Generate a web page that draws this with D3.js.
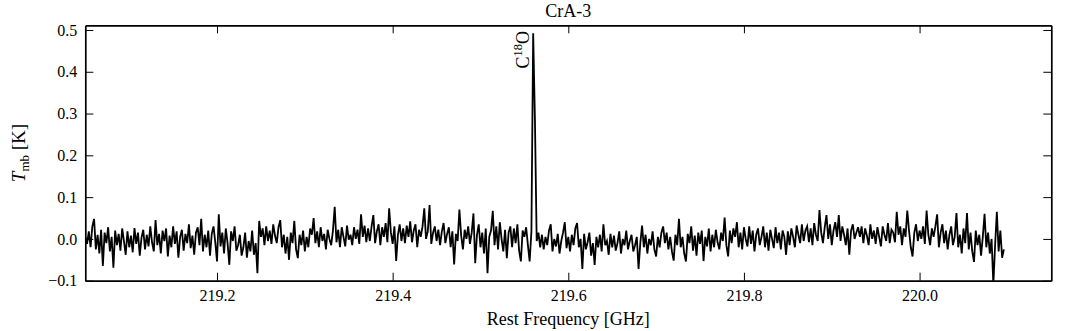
<!DOCTYPE html>
<html>
<head>
<meta charset="utf-8">
<script src="https://cdnjs.cloudflare.com/ajax/libs/d3/7.8.5/d3.min.js"></script>
<style>
  html, body { margin: 0; padding: 0; background: #fff; }
  svg { display: block; }
  text { font-family: "Liberation Serif", "DejaVu Serif", serif; fill: #000; }
</style>
</head>
<body>
<svg id="chart" width="1072" height="331"></svg>
<script>
// spectrum channel grid (GHz)
const freqStart = 219.05;
const chanWidth = 0.002;

// main beam temperature per channel, in mK
const tmbMilliK = [
  5, -12, 18, -20, 30, 48, -25, 10, -35, 22,
  -65, 15, -10, 28, -30, 5, -69, 20, -15, 12,
  -28, 25, -5, -38, 18, -20, 8, -32, 26, -12,
  15, -40, 3, 22, -25, 10, -18, 30, -8, -30,
  45, -15, 12, -35, 20, -5, 25, -42, 8, -20,
  30, -12, 18, -45, 5, 22, -28, 12, -10, 35,
  -22, 8, -38, 15, 28, -15, 48, -30, 10, -20,
  20, -40, 12, 30, -8, -54, 59, -18, 15, -35,
  25, -10, -62, 18, -5, 30, -28, -15, 10, -40,
  -20, 15, -45, -5, -30, 20, -38, -10, -82, 43,
  5, 25, -15, 30, -5, 20, -12, 35, 8, -10, 28,
  45, -20, 10, -35, 5, -50, 15, -10, 43, -25,
  -46, 10, -15, 20, -30, 5, -20, 25, 10, 50,
  -10, 18, -20, 28, -5, 12, -25, 22, 0, -15,
  20, 77, -8, 22, -20, 28, 5, -18, 32, -2,
  10, -15, 28, 0, 22, -12, 59, 5, 32, -8,
  25, -5, 30, 57, -10, 18, 35, -15, 28, 5,
  38, -8, 73, 15, -12, 30, -53, 10, 35, -5,
  25, -10, 32, 5, 42, -8, 20, 35, -20, 22,
  5, 30, 73, 0, 18, 81, -12, 15, 30, -5,
  22, -15, 18, 38, -10, 12, 28, -20, 18, -61,
  12, -5, 70, 8, -25, 22, 0, 30, -12, 15,
  61, -58, 10, 35, -20, 15, -35, 25, -82, 5,
  20, 67, -15, 30, -25, 40, 0, -30, 22, -46,
  15, 30, -20, 25, -10, 35, -28, -54, 20, 5,
  28, -15, -54, 18, 492, 285, -5, 15, -20, 10,
  -25, 5, -15, 20, 35, -30, 0, -18, 12, -35,
  -5, 15, 40, -22, 5, -30, 10, -15, 25, 38,
  -20, 0, -72, 12, -25, -8, 15, -40, -10, -62,
  5, -20, 10, -30, 35, -15, -5, -38, 12, -20,
  8, -28, -10, 18, -35, 0, -15, 20, -25, -5,
  10, -30, -15, 5, -72, -10, 32, -20, 10, -35,
  0, -15, 18, -25, -42, 5, -20, 15, 30, -10,
  15, -25, 5, -30, -52, 10, -15, 48, -20, 5,
  -35, -54, 12, -10, 30, -28, 8, -40, 15, -12,
  20, -53, 5, -18, 25, -30, 10, -20, 22, -8,
  -25, 15, -5, 51, -15, -42, 20, -10, 25, 5,
  40, -20, 15, -25, 28, 0, -18, 30, -12, 20,
  -30, 10, 25, -15, 5, 30, -20, 15, -28, 22,
  0, -22, 28, -10, 15, -25, 20, 5, -38, 18,
  -15, 25, 5, -20, 32, 10, -10, 35, -5, 20,
  30, -8, 25, -15, 38, 10, -5, 69, 15, -10,
  28, 57, 0, 35, -15, 20, 40, 5, 57, -5,
  30, 10, -15, 25, -38, 20, 35, 0, 15, 28,
  5, 30, -10, 25, 8, -15, 35, 0, 20, -12,
  28, 5, -18, 30, 10, -5, 38, -10, 22, 15,
  -8, 65, 10, 30, -15, 25, 5, 68, 20, -20,
  -42, 15, 35, -5, 20, 0, 30, -12, 68, 10,
  -15, 25, 5, 30, 59, -20, 15, 35, -10, 20,
  -25, 10, 30, -15, 5, 62, -20, 10, -35, 25,
  -10, 62, -25, 15, -30, -55, 20, -15, 10, -40,
  5, 60, -20, 15, -35, 0, -110, -15, 65, -30,
  20, -45, -25
];

// identified lines
const lineNames = ["C18O"];
const lineFreqs = [219.5604];

const xTicks = [219.2, 219.4, 219.6, 219.8, 220.0];
const yTicks = [-0.1, 0.0, 0.1, 0.2, 0.3, 0.4, 0.5];

const title = "CrA-3";

const W = 1072, H = 331;
const margin = { top: 25.3, right: 20.7, bottom: 50.3, left: 85.3 };
const iw = W - margin.left - margin.right;
const ih = H - margin.top - margin.bottom;

const spectrum = tmbMilliK.map((v, i) => ({ f: freqStart + i * chanWidth, t: v / 1000 }));

const x = d3.scaleLinear().domain([219.05, 220.15]).range([0, iw]);
const y = d3.scaleLinear().domain([-0.1, 0.5112]).range([ih, 0]);

const svg = d3.select("#chart");
const g = svg.append("g").attr("transform", `translate(${margin.left},${margin.top})`);

g.append("clipPath").attr("id", "plotclip")
  .append("rect").attr("width", iw).attr("height", ih);

// spectrum
const line = d3.line().x(d => x(d.f)).y(d => y(d.t));
g.append("path")
  .datum(spectrum)
  .attr("clip-path", "url(#plotclip)")
  .attr("fill", "none")
  .attr("stroke", "#000")
  .attr("stroke-width", 1.8)
  .attr("stroke-linejoin", "miter")
  .attr("d", line);

// axes, ticks pointing inward on all four sides
const fmt = d3.format(".1f");
const styleAxis = sel => {
  sel.selectAll("path.domain").attr("stroke", "#000").attr("stroke-width", 1.7);
  sel.selectAll(".tick line").attr("stroke", "#000").attr("stroke-width", 1);
  sel.selectAll("text").attr("font-family", "Liberation Serif, DejaVu Serif, serif")
    .attr("font-size", 16).attr("fill", "#000");
  sel.attr("font-family", null).attr("font-size", null);
};

g.append("g").attr("transform", `translate(0,${ih})`)
  .call(d3.axisBottom(x).tickValues(xTicks).tickFormat(fmt).tickSizeInner(-8).tickSizeOuter(0).tickPadding(9))
  .call(styleAxis);
g.append("g")
  .call(d3.axisTop(x).tickValues(xTicks).tickFormat("").tickSizeInner(-8).tickSizeOuter(0))
  .call(styleAxis);
g.append("g")
  .call(d3.axisLeft(y).tickValues(yTicks).tickFormat(fmt).tickSizeInner(-8).tickSizeOuter(0).tickPadding(8))
  .call(styleAxis);
g.append("g").attr("transform", `translate(${iw},0)`)
  .call(d3.axisRight(y).tickValues(yTicks).tickFormat("").tickSizeInner(-8).tickSizeOuter(0))
  .call(styleAxis);

// line labels, rotated next to the emission peak
lineNames.forEach((name, k) => {
  const lx = x(lineFreqs[k]) - 5;
  const ly = y(0.5) + 1;
  const t = g.append("text")
    .attr("transform", `translate(${lx},${ly}) rotate(-90)`)
    .attr("text-anchor", "end")
    .attr("font-size", 18);
  const m = name.match(/^([A-Z]+)(\d+)(.*)$/);
  t.append("tspan").text(m[1]);
  t.append("tspan").attr("font-size", 12.5).attr("dy", -7).text(m[2]);
  t.append("tspan").attr("dy", 7).text(m[3]);
});

// title
svg.append("text")
  .attr("x", margin.left + iw / 2)
  .attr("y", 17)
  .attr("text-anchor", "middle")
  .attr("font-size", 18)
  .text(title);

// x label
svg.append("text")
  .attr("x", margin.left + iw / 2)
  .attr("y", 325)
  .attr("text-anchor", "middle")
  .attr("font-size", 18)
  .text("Rest Frequency [GHz]");

// y label
const yl = svg.append("text")
  .attr("transform", `translate(25,${margin.top + ih / 2}) rotate(-90)`)
  .attr("text-anchor", "middle")
  .attr("font-size", 19);
yl.append("tspan").attr("font-style", "italic").text("T");
yl.append("tspan").attr("font-size", 13).attr("dy", 4).text("mb");
yl.append("tspan").attr("dy", -4).text(" [K]");
</script>
</body>
</html>
